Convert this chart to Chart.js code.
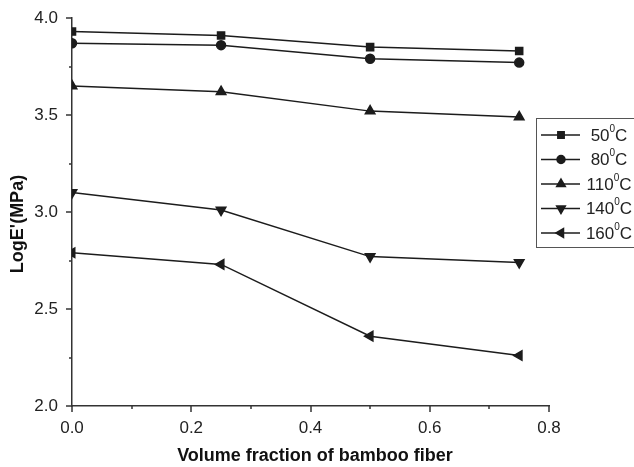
<!DOCTYPE html>
<html>
<head>
<meta charset="utf-8">
<script src="https://cdn.jsdelivr.net/npm/chart.js@4.4.0/dist/chart.umd.min.js"></script>
<style>
  html, body { margin: 0; padding: 0; background: #fff; }
  #wrap { width: 634px; height: 467px; position: relative; }
</style>
</head>
<body>
<div id="wrap"><canvas id="chart" width="634" height="467"></canvas></div>
<script>
// Data
const fractions = [0, 0.25, 0.5, 0.75];
const temps = ['50', '80', '110', '140', '160'];
const e50 = [3.93, 3.91, 3.85, 3.83];
const e80 = [3.87, 3.86, 3.79, 3.77];
const e110 = [3.65, 3.62, 3.52, 3.49];
const e140 = [3.10, 3.01, 2.77, 2.74];
const e160 = [2.79, 2.73, 2.36, 2.26];
const xTickLabels = ['0.0', '0.2', '0.4', '0.6', '0.8'];
const yTickLabels = ['2.0', '2.5', '3.0', '3.5', '4.0'];
const xTitle = 'Volume fraction of bamboo fiber';
const yTitle = "LogE'(MPa)";

const ink = '#1c1c1c';
const fontFamily = '"Liberation Sans", Arial, sans-serif';

// marker style per series
const markers = [
    { style: 'rect', rot: 0, r: 5 },
    { style: 'circle', rot: 0, r: 4.5 },
    { style: 'triangle', rot: 0, r: 5.5 },
    { style: 'triangle', rot: 180, r: 5.5 },
    { style: 'triangle', rot: 270, r: 5.5 }
];

const seriesValues = [e50, e80, e110, e140, e160];
const datasets = seriesValues.map((vals, i) => ({
    label: temps[i],
    data: vals.map((v, j) => ({ x: fractions[j], y: v })),
    borderColor: ink,
    backgroundColor: ink,
    borderWidth: 1.5,
    pointStyle: markers[i].style,
    pointRotation: markers[i].rot,
    pointRadius: markers[i].r,
    pointHoverRadius: markers[i].r,
    tension: 0
}));

// Origin-like axis ticks (major + minor, outward) and axis titles
const axisDecor = {
    id: 'axisDecor',
    afterDraw(chart) {
        const ctx = chart.ctx;
        const xs = chart.scales.x, ys = chart.scales.y;
        const area = chart.chartArea;
        ctx.save();
        ctx.strokeStyle = '#333';
        ctx.lineWidth = 1.5;
        xs.ticks.forEach(t => {
            const px = Math.round(xs.getPixelForValue(t.value));
            const major = Math.abs(Math.round(t.value * 5) - t.value * 5) < 1e-6;
            ctx.beginPath();
            ctx.moveTo(px, area.bottom);
            ctx.lineTo(px, area.bottom + (major ? 6 : 3));
            ctx.stroke();
        });
        ys.ticks.forEach(t => {
            const py = Math.round(ys.getPixelForValue(t.value));
            const major = Math.abs(Math.round(t.value * 2) - t.value * 2) < 1e-6;
            ctx.beginPath();
            ctx.moveTo(area.left, py);
            ctx.lineTo(area.left - (major ? 6 : 3), py);
            ctx.stroke();
        });

        // titles
        ctx.fillStyle = '#111';
        ctx.font = 'bold 18px ' + fontFamily;
        ctx.textAlign = 'center';
        ctx.textBaseline = 'middle';
        ctx.fillText(xTitle, 315, 456);
        ctx.translate(18, 224);
        ctx.rotate(-Math.PI / 2);
        ctx.fillText(yTitle, 0, 0);
        ctx.restore();
    }
};

// Boxed legend on the right with superscript degree
const boxLegend = {
    id: 'boxLegend',
    afterDraw(chart) {
        const ctx = chart.ctx;
        const bx = 536, by = 118, bw = 110, bh = 129;
        ctx.save();
        ctx.strokeStyle = '#555';
        ctx.lineWidth = 1;
        ctx.strokeRect(bx + 0.5, by + 0.5, bw, bh);
        chart.data.datasets.forEach((ds, i) => {
            const y = 135 + i * 24.5;
            ctx.strokeStyle = ink;
            ctx.lineWidth = 1.5;
            ctx.beginPath();
            ctx.moveTo(541, y);
            ctx.lineTo(580, y);
            ctx.stroke();
            ctx.fillStyle = ink;
            Chart.helpers.drawPoint(ctx, {
                pointStyle: ds.pointStyle,
                rotation: ds.pointRotation,
                radius: ds.pointRadius - 0.5,
                borderWidth: 1
            }, 561, y);
            // label: number, superscript 0, C
            const big = '17px ' + fontFamily;
            const small = '10px ' + fontFamily;
            ctx.font = big;
            const wNum = ctx.measureText(ds.label).width;
            const wC = ctx.measureText('C').width;
            ctx.font = small;
            const wSup = ctx.measureText('0').width;
            const total = wNum + wSup + wC;
            let tx = 609 - total / 2;
            ctx.textBaseline = 'middle';
            ctx.textAlign = 'left';
            ctx.fillStyle = '#222';
            ctx.font = big;
            ctx.fillText(ds.label, tx, y + 1);
            tx += wNum;
            ctx.font = small;
            ctx.fillText('0', tx, y - 6);
            tx += wSup;
            ctx.font = big;
            ctx.fillText('C', tx, y + 1);
        });
        ctx.restore();
    }
};

new Chart(document.getElementById('chart'), {
    type: 'line',
    data: { datasets: datasets },
    options: {
        responsive: false,
        animation: false,
        events: [],
        layout: { padding: { top: 18, right: 85, left: 0, bottom: 0 } },
        plugins: {
            legend: { display: false },
            tooltip: { enabled: false }
        },
        scales: {
            x: {
                type: 'linear',
                min: 0,
                max: 0.8,
                afterFit: s => { s.height = 61; },
                grid: { display: false },
                border: { display: true, color: '#333', width: 1.5 },
                ticks: {
                    stepSize: 0.1,
                    padding: 4,
                    color: '#222',
                    font: { family: fontFamily, size: 17 },
                    maxRotation: 0,
                    autoSkip: false,
                    callback: v => {
                        const k = Math.round(v * 5);
                        return Math.abs(k - v * 5) < 1e-6 ? xTickLabels[k] : '';
                    }
                }
            },
            y: {
                type: 'linear',
                min: 2.0,
                max: 4.0,
                afterFit: s => { s.width = 72; },
                grid: { display: false },
                border: { display: true, color: '#333', width: 1.5 },
                ticks: {
                    stepSize: 0.25,
                    padding: 6,
                    color: '#222',
                    font: { family: fontFamily, size: 17 },
                    autoSkip: false,
                    callback: v => {
                        const k = Math.round((v - 2) * 2);
                        return Math.abs(k - (v - 2) * 2) < 1e-6 ? yTickLabels[k] : '';
                    }
                }
            }
        }
    },
    plugins: [axisDecor, boxLegend]
});
</script>
</body>
</html>
